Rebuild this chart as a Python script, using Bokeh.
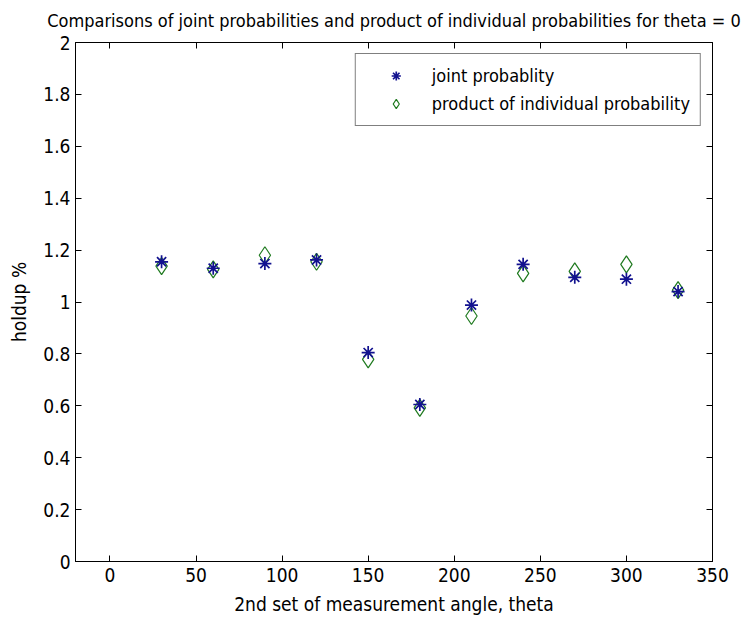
from bokeh.plotting import figure
from bokeh.models import (Range1d, LinearAxis, FixedTicker, CustomJSTickFormatter,
                          Legend, LegendItem)
from bokeh.embed import file_html
from bokeh.resources import INLINE

# measurement angles (degrees) and holdup values
theta = [30, 60, 90, 120, 150, 180, 210, 240, 270, 300, 330]
joint_prob = [1.155, 1.130, 1.148, 1.162, 0.805, 0.605, 0.988, 1.145, 1.095, 1.088, 1.040]
product_prob = [1.138, 1.126, 1.180, 1.155, 0.779, 0.592, 0.946, 1.110, 1.118, 1.145, 1.046]

x_ticks = [0, 50, 100, 150, 200, 250, 300, 350]
y_ticks = [0, 0.2, 0.4, 0.6, 0.8, 1.0, 1.2, 1.4, 1.6, 1.8, 2.0]

TITLE = "Comparisons of joint probabilities and product of individual probabilities for theta = 0"
FONT = "'Liberation Sans Narrow', 'DejaVu Sans Condensed', 'Liberation Sans', sans-serif"
STAR_COLOR = "#12128f"
DIAMOND_COLOR = "#1f7a1f"

p = figure(width=743, height=620, output_backend="svg", toolbar_location=None,
           x_range=Range1d(-20, 350), y_range=Range1d(0, 2),
           min_border_left=75, min_border_right=31, min_border_top=42, min_border_bottom=59)
p.background_fill_color = "white"
p.border_fill_color = "white"
p.grid.visible = False
p.outline_line_color = "black"
p.outline_line_width = 1

fmt = CustomJSTickFormatter(code="return String(Math.round(tick * 10) / 10);")

for ax in (p.xaxis[0], p.yaxis[0]):
    ax.major_tick_in = 6
    ax.major_tick_out = 0
    ax.minor_tick_in = 0
    ax.minor_tick_out = 0
    ax.axis_line_color = "black"
    ax.major_tick_line_color = "black"
    ax.major_label_text_font = FONT
    ax.major_label_text_font_size = "19px"
    ax.major_label_text_color = "black"
    ax.axis_label_text_font = FONT
    ax.axis_label_text_font_size = "19px"
    ax.axis_label_text_font_style = "normal"
    ax.axis_label_text_color = "black"

p.xaxis[0].ticker = FixedTicker(ticks=x_ticks)
p.xaxis[0].formatter = fmt
p.xaxis[0].axis_label = "2nd set of measurement angle, theta"
p.xaxis[0].major_label_standoff = 6
p.xaxis[0].axis_label_standoff = 8

p.yaxis[0].ticker = FixedTicker(ticks=y_ticks)
p.yaxis[0].formatter = fmt
p.yaxis[0].axis_label = "holdup %"
p.yaxis[0].major_label_standoff = 5
p.yaxis[0].axis_label_standoff = 10

# box ticks on the right, without labels
right_ax = LinearAxis(ticker=FixedTicker(ticks=y_ticks),
                      major_tick_in=6, major_tick_out=0, minor_tick_in=0, minor_tick_out=0,
                      major_label_text_color=None, major_label_text_font_size="1px",
                      axis_line_color="black", major_tick_line_color="black",
                      major_label_standoff=0)
p.add_layout(right_ax, "right")

# box ticks on top; the chart title sits above them
top_ax = LinearAxis(ticker=FixedTicker(ticks=x_ticks),
                    major_tick_in=6, major_tick_out=0, minor_tick_in=0, minor_tick_out=0,
                    major_label_text_color=None, major_label_text_font_size="1px",
                    axis_line_color="black", major_tick_line_color="black",
                    major_label_standoff=0,
                    axis_label=TITLE, axis_label_text_font=FONT,
                    axis_label_text_font_size="18px", axis_label_text_font_style="normal",
                    axis_label_text_color="black", axis_label_standoff=12)
p.add_layout(top_ax, "above")

diamonds = p.scatter(theta, product_prob, marker="diamond", size=17,
                     fill_color=None, line_color=DIAMOND_COLOR, line_width=1.2)
stars = p.scatter(theta, joint_prob, marker="asterisk", size=13,
                  line_color=STAR_COLOR, line_width=1.7)

legend = Legend(items=[LegendItem(label="joint probablity", renderers=[stars]),
                       LegendItem(label="product of individual probability", renderers=[diamonds])],
                location="top_right")
legend.margin = 11
legend.padding = 10
legend.spacing = 5
legend.glyph_width = 60
legend.glyph_height = 23
legend.label_standoff = 6
legend.label_text_font = FONT
legend.label_text_font_size = "18px"
legend.label_text_color = "black"
legend.border_line_color = "black"
legend.border_line_width = 1
legend.background_fill_color = "white"
legend.background_fill_alpha = 1
p.add_layout(legend, "center")

open("out.html", "w").write(file_html(p, INLINE))
